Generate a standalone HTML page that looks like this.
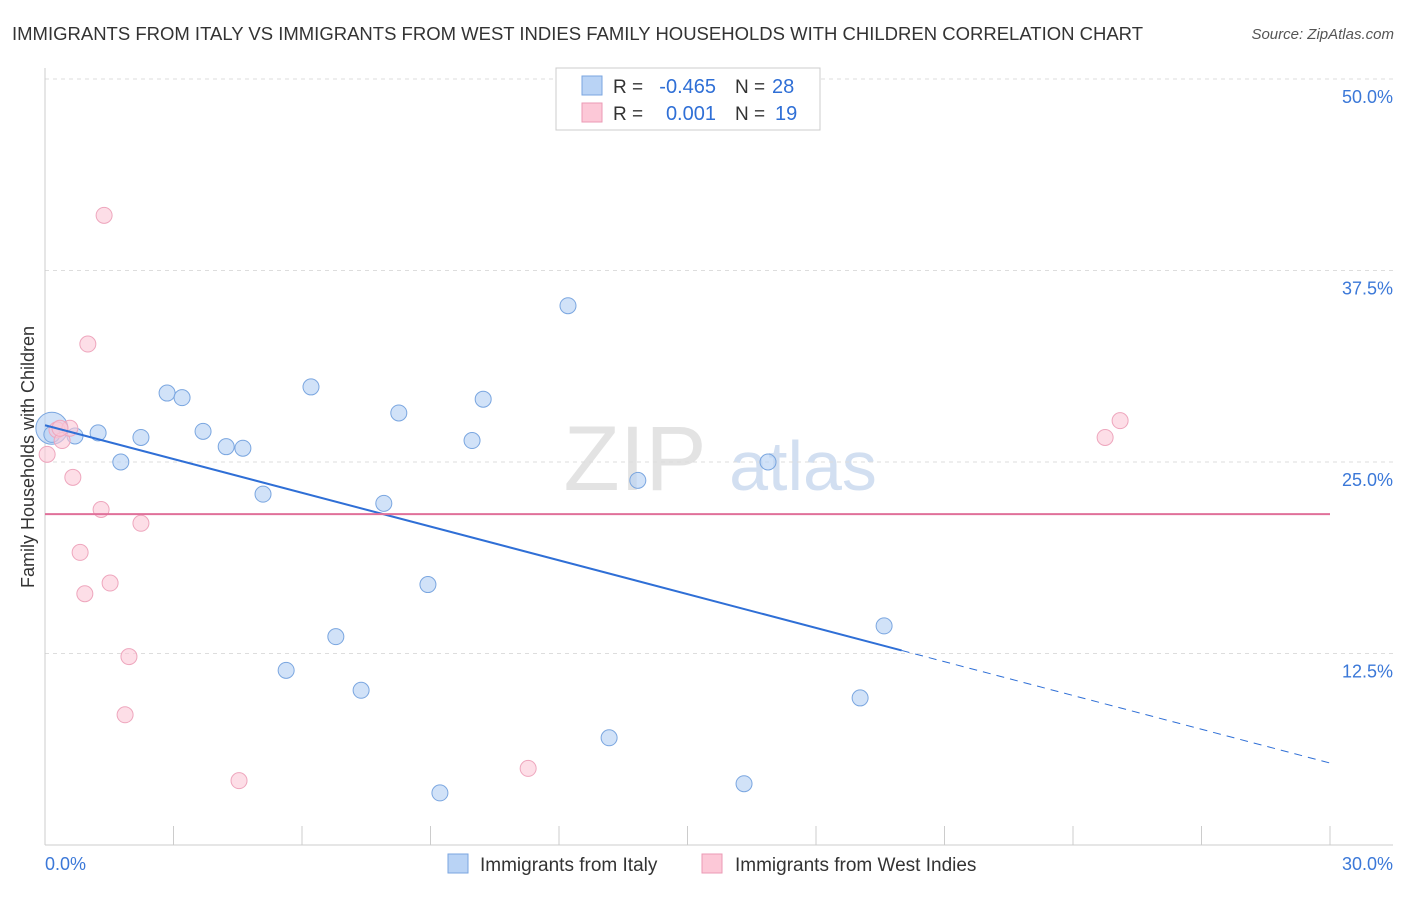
<!DOCTYPE html>
<html><head><meta charset="utf-8"><style>
body{margin:0;background:#fff;font-family:"Liberation Sans",sans-serif;}
svg text{font-family:"Liberation Sans",sans-serif;}
</style></head><body>
<svg id="c" width="1406" height="892" xmlns="http://www.w3.org/2000/svg">
<text x="12" y="40" font-size="18.5" fill="#333">IMMIGRANTS FROM ITALY VS IMMIGRANTS FROM WEST INDIES FAMILY HOUSEHOLDS WITH CHILDREN CORRELATION CHART</text>
<text x="1394" y="39" font-size="15" fill="#555" font-style="italic" text-anchor="end">Source: ZipAtlas.com</text>
<g>
<text x="635" y="490" font-size="92" fill="#ddd" font-family="Liberation Serif" text-anchor="middle" opacity="0.8">ZIP</text>
<text x="803" y="490" font-size="70" fill="#c8d8ee" text-anchor="middle" opacity="0.8">atlas</text>
</g>
<g id="grid"></g>
<g id="axes"></g>
<g id="marks"></g>
<text transform="translate(34,457) rotate(-90)" font-size="18" fill="#333" text-anchor="middle">Family Households with Children</text>
<g>
<rect x="556" y="68" width="264" height="62" fill="#fff" stroke="#ccc"/>
<rect x="582" y="76" width="20" height="19" fill="#b9d3f5" stroke="#7aa6e0"/>
<rect x="582" y="103" width="20" height="19" fill="#fcc8d7" stroke="#eb9ab4"/>
<text x="613" y="93" font-size="19" fill="#333">R =</text>
<text x="716" y="93" font-size="20" fill="#2f6fd6" text-anchor="end">-0.465</text>
<text x="735" y="93" font-size="19" fill="#333">N =</text>
<text x="772" y="93" font-size="20" fill="#2f6fd6">28</text>
<text x="613" y="120" font-size="19" fill="#333">R =</text>
<text x="716" y="120" font-size="20" fill="#2f6fd6" text-anchor="end">0.001</text>
<text x="735" y="120" font-size="19" fill="#333">N =</text>
<text x="775" y="120" font-size="20" fill="#2f6fd6">19</text>
</g>
<g>
<rect x="448" y="854" width="20" height="19" fill="#b9d3f5" stroke="#7aa6e0"/>
<text x="480" y="871" font-size="19" fill="#333">Immigrants from Italy</text>
<rect x="702" y="854" width="20" height="19" fill="#fcc8d7" stroke="#eb9ab4"/>
<text x="735" y="871" font-size="19" fill="#333">Immigrants from West Indies</text>
</g>
</svg>
<script>
const yTicks=[12.5,25,37.5,50];
const yTickLabels=["12.5%","25.0%","37.5%","50.0%"];
const xTickLabels=["0.0%","30.0%"];
const italyX=[0.16,0.16,0.70,1.24,1.77,2.24,2.85,3.20,3.69,4.23,4.62,5.09,6.21,6.79,7.38,5.63,7.91,8.26,8.94,9.22,9.97,10.23,12.21,13.17,13.84,16.32,16.88,19.03,19.59];
const italyY=[27.2,26.8,26.7,26.9,25.0,26.6,29.5,29.2,27.0,26.0,25.9,22.9,29.9,13.6,10.1,11.4,22.3,28.2,17.0,3.4,26.4,29.1,35.2,7.0,23.8,4.0,25.0,9.6,14.3];
const wiX=[0.05,0.28,0.40,0.58,0.65,0.82,0.93,1.00,1.31,1.38,1.52,1.96,1.87,2.24,4.53,11.28,24.75,25.10,0.35];
const wiY=[25.5,27.1,26.4,27.2,24.0,19.1,16.4,32.7,21.9,41.1,17.1,12.3,8.5,21.0,4.2,5.0,26.6,27.7,27.2];
const italyTrend=[27.4,5.35];
const italyTrendSolidEnd=20.0;
const wiTrend=[21.6,21.6];
const NS="http://www.w3.org/2000/svg";
const sx=v=>45+v/30*1285;
const sy=v=>845-v/50*766;
function mk(parent,tag,attrs){const e=document.createElementNS(NS,tag);for(const k in attrs)e.setAttribute(k,attrs[k]);document.getElementById(parent).appendChild(e);return e;}
yTicks.forEach((t,i)=>{
 const g=mk('grid','line',{x1:45,x2:1393,y1:sy(t),y2:sy(t),stroke:'#ddd','stroke-dasharray':'4,4'});
 
 
 const l=mk('axes','text',{x:1393,y:sy(t)+24,'font-size':18,fill:'#3b78d8','text-anchor':'end'});
 l.textContent=yTickLabels[i];
 
 
});
const ax=mk('axes','line',{x1:45,x2:45,y1:68,y2:845,stroke:'#ccc'});


const bx=mk('axes','line',{x1:45,x2:1393,y1:845,y2:845,stroke:'#ccc'});


for(let i=0;i<=10;i++){
 const t=mk('axes','line',{x1:sx(i*3),x2:sx(i*3),y1:826,y2:845,stroke:'#ccc'});
 
 
}
[[0,'start',45],[30,'end',1393]].forEach((d,i)=>{
 const l=mk('axes','text',{x:d[2],y:870,'font-size':18,fill:'#3b78d8','text-anchor':d[1]});
 l.textContent=xTickLabels[i];
 
 
});
italyX.forEach((x,i)=>{
 const c=mk('marks','circle',{cx:sx(x),cy:sy(italyY[i]),r:i===0?16:8,fill:'#b9d3f5','fill-opacity':0.65,stroke:'#7aa6e0','stroke-width':1});
 
 
});
wiX.forEach((x,i)=>{
 const c=mk('marks','circle',{cx:sx(x),cy:sy(wiY[i]),r:8,fill:'#fcc8d7','fill-opacity':0.6,stroke:'#eea6bd','stroke-width':1});
 
 
});
const ty=x=>italyTrend[0]+(italyTrend[1]-italyTrend[0])*x/30;
const l1=mk('marks','line',{x1:sx(0),y1:sy(ty(0)),x2:sx(italyTrendSolidEnd),y2:sy(ty(italyTrendSolidEnd)),stroke:'#2f6fd6','stroke-width':2});


const l2=mk('marks','line',{x1:sx(italyTrendSolidEnd),y1:sy(ty(italyTrendSolidEnd)),x2:sx(30),y2:sy(ty(30)),stroke:'#2f6fd6','stroke-width':1,'stroke-dasharray':'8,6'});


const l3=mk('marks','line',{x1:sx(0),y1:sy(wiTrend[0]),x2:sx(30),y2:sy(wiTrend[1]),stroke:'#e0709a','stroke-width':2});


</script>
</body></html>
